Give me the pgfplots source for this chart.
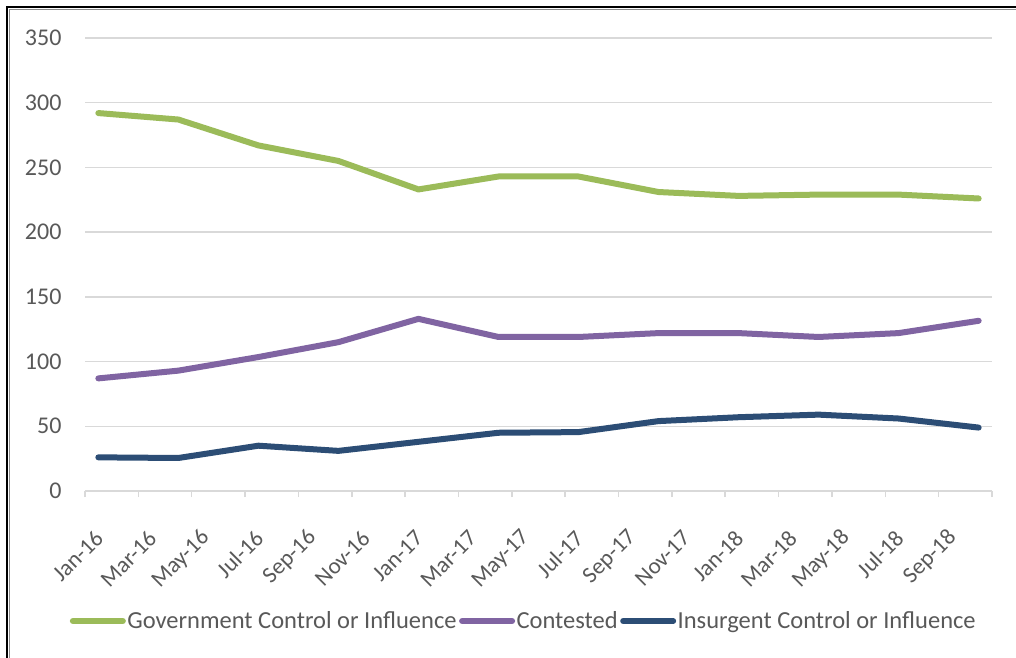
\documentclass[border=0pt]{standalone}
\usepackage{fontspec}
\setmainfont{Carlito}
\usepackage{pgfplots}
\pgfplotsset{compat=1.18}
\definecolor{gov}{HTML}{9BBB59}
\definecolor{con}{HTML}{8064A2}
\definecolor{ins}{HTML}{2C4D75}
\definecolor{gridc}{HTML}{D9D9D9}
\definecolor{txt}{HTML}{595959}
\begin{document}
\begin{tikzpicture}
\useasboundingbox (0,0) rectangle (1016bp,658bp);
\fill[white] (0,0) rectangle (1016bp,658bp);
\draw[black!45, line width=1bp] (9.5bp,-20bp) -- (9.5bp,648.5bp) -- (1040bp,648.5bp);
\draw[black, line width=1.6bp] (7bp,-20bp) -- (7bp,651bp) -- (1040bp,651bp);
\begin{axis}[
  at={(85bp,167bp)}, anchor=south west,
  width=907bp, height=453bp, scale only axis,
  xmin=-0.5, xmax=33.5, ymin=0, ymax=350,
  ytick={0,50,...,350},
  xtick={-0.5,1.5,...,33.5},
  xticklabels={},
  extra x ticks={0.5,2.5,...,32.5},
  extra x tick labels={Jan-16,Mar-16,May-16,Jul-16,Sep-16,Nov-16,Jan-17,Mar-17,May-17,Jul-17,Sep-17,Nov-17,Jan-18,Mar-18,May-18,Jul-18,Sep-18},
  extra x tick style={major tick length=0pt, xmajorgrids=false, tick label style={xshift=-10bp, rotate=45, anchor=east, font=\fontsize{23bp}{27bp}\selectfont}},
  xticklabel shift=41bp,
  yticklabel shift=14bp,
  axis line style={draw=none},
  ymajorgrids,
  grid style={draw=gridc, line width=1.5bp},
  xtick pos=bottom,
  tick align=outside,
  major tick length=6bp,
  xtick style={draw=gridc, line width=1.5bp},
  ytick style={draw=none},
  tick label style={font=\fontsize{24bp}{28bp}\selectfont, text=txt},
  /pgf/number format/assume math mode=true,
  legend columns=-1,
  legend style={draw=none, fill=none, at={(0.4835,-0.287)}, anchor=center,
    font=\fontsize{24.5bp}{28bp}\selectfont, text=txt,
    nodes={inner sep=1.5bp},
    /tikz/every even column/.append style={column sep=1bp}},
  legend image code/.code={\draw[#1, line cap=round] (0bp,0bp) -- (50bp,0bp);},
  every axis plot/.append style={line width=6bp, line join=round, line cap=round},
]
\addplot[gov] coordinates {(0,292) (3,287) (6,267) (9,255) (12,233) (15,243) (18,243) (21,231) (24,228) (27,229) (30,229) (33,226)};
\addlegendentry{Government Control or Influence}
\addplot[con] coordinates {(0,87) (3,93) (6,103.5) (9,115) (12,133) (15,119) (18,119) (21,122) (24,122) (27,119) (30,122) (33,131.5)};
\addlegendentry{Contested}
\addplot[ins] coordinates {(0,26) (3,25.5) (6,35) (9,31) (12,38) (15,45) (18,45.5) (21,54) (24,57) (27,59) (30,56) (33,49)};
\addlegendentry{Insurgent Control or Influence}
\end{axis}
\end{tikzpicture}
\end{document}
